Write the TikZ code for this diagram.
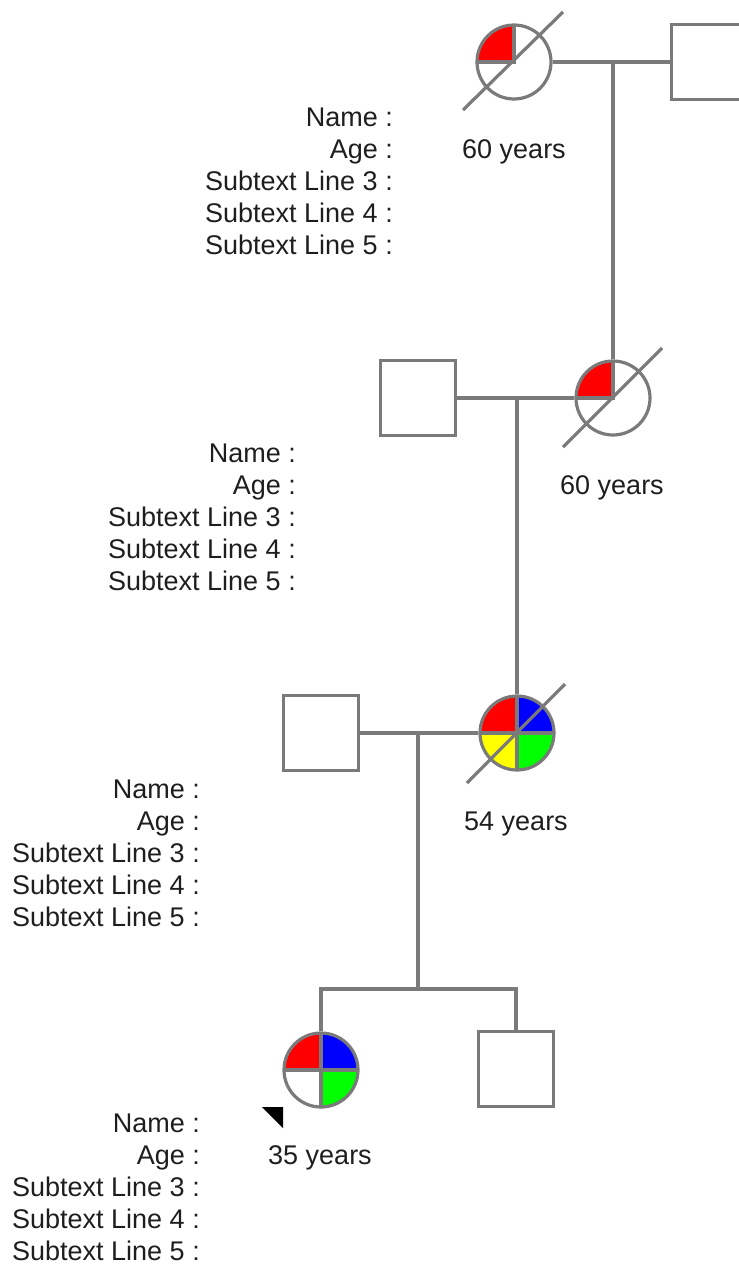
\documentclass[tikz,border=0pt]{standalone}
\usepackage{fontspec}
\setmainfont{Liberation Sans}
\definecolor{pg}{RGB}{122,122,122}
\definecolor{tx}{RGB}{30,30,30}
\definecolor{qred}{RGB}{255,0,0}
\definecolor{qblue}{RGB}{0,0,255}
\definecolor{qyellow}{RGB}{255,255,0}
\definecolor{qgreen}{RGB}{0,255,0}
\begin{document}
\begin{tikzpicture}[x=1pt,y=-1pt,
  female/.style={circle,draw=pg,line width=3.2pt,fill=white,minimum size=74pt,inner sep=0pt},
  male/.style={rectangle,draw=pg,line width=3.2pt,fill=white,minimum size=75pt,inner sep=0pt},
  rel/.style={draw=pg,line width=3.2pt},
  lbl/.style={font=\fontsize{27}{32}\selectfont,text=tx,inner sep=0pt},
  onequad/.style={path picture={
      \fill[qred] (path picture bounding box.center) rectangle (path picture bounding box.north west);
      \draw[pg,line width=3.2pt] (path picture bounding box.north) -- (path picture bounding box.center) -- (path picture bounding box.west);}},
  fourquad/.style n args={4}{path picture={
      \fill[#1] (path picture bounding box.center) rectangle (path picture bounding box.north west);
      \fill[#2] (path picture bounding box.center) rectangle (path picture bounding box.north east);
      \fill[#3] (path picture bounding box.center) rectangle (path picture bounding box.south west);
      \fill[#4] (path picture bounding box.center) rectangle (path picture bounding box.south east);
      \draw[pg,line width=3.2pt] (path picture bounding box.north) -- (path picture bounding box.south);
      \draw[pg,line width=3.2pt] (path picture bounding box.west) -- (path picture bounding box.east);}},
  deceased/.style={draw=pg,line width=3.2pt}
]
\useasboundingbox (0,0) rectangle (739,1264);
\clip (0,0) rectangle (739,1264);

% generation 1
\node[female,onequad] (f1) at (514,62) {};
\node[male] (m1) at (709,62) {};
\draw[rel] (f1) -- (m1);
\draw[deceased] ([shift={(-51,48)}]f1.center) -- ([shift={(49,-50)}]f1.center);
\coordinate (u1) at (613,62);

% generation 2
\node[male] (m2) at (418,398) {};
\node[female,onequad] (f2) at (613,398) {};
\draw[rel] (u1) -- (f2);
\draw[rel] (m2) -- (f2);
\draw[deceased] ([shift={(-50,49)}]f2.center) -- ([shift={(49,-50)}]f2.center);
\coordinate (u2) at (517,398);

% generation 3
\node[male] (m3) at (321,733) {};
\node[female,fourquad={qred}{qblue}{qyellow}{qgreen}] (f3) at (517,733) {};
\draw[rel] (u2) -- (f3);
\draw[rel] (m3) -- (f3);
\draw[deceased] ([shift={(-50,50)}]f3.center) -- ([shift={(48,-49)}]f3.center);
\coordinate (u3) at (418,733);
\coordinate (s3) at (418,989);
\draw[rel] (u3) -- (s3);

% generation 4
\node[female,fourquad={qred}{qblue}{white}{qgreen}] (f4) at (321,1070) {};
\node[male] (m4) at (516,1069) {};
\draw[rel] (f4.north) |- (s3) -| (m4.north);
\fill[black] ([shift={(-59,37)}]f4.center) -- ([shift={(-38,37)}]f4.center) -- ([shift={(-38,58)}]f4.center) -- cycle;

% age labels
\node[lbl,anchor=base] (a1) at (514,158) {60 years};
\node[lbl,anchor=base] (a2) at (612,494) {60 years};
\node[lbl,anchor=base] (a3) at (516,830) {54 years};
\node[lbl,anchor=base] (a4) at (320,1164) {35 years};

% information blocks
\foreach \bx/\by/\g in {393/126/1, 296/462/2, 200/798/3, 200/1132/4}{
  \foreach \t [count=\i from 0] in {Name :,Age :,Subtext Line 3 :,Subtext Line 4 :,Subtext Line 5 :}{
    \node[lbl,anchor=base east] (info\g-\i) at (\bx,{\by+32*\i}) {\t};
  }
}
\end{tikzpicture}
\end{document}
